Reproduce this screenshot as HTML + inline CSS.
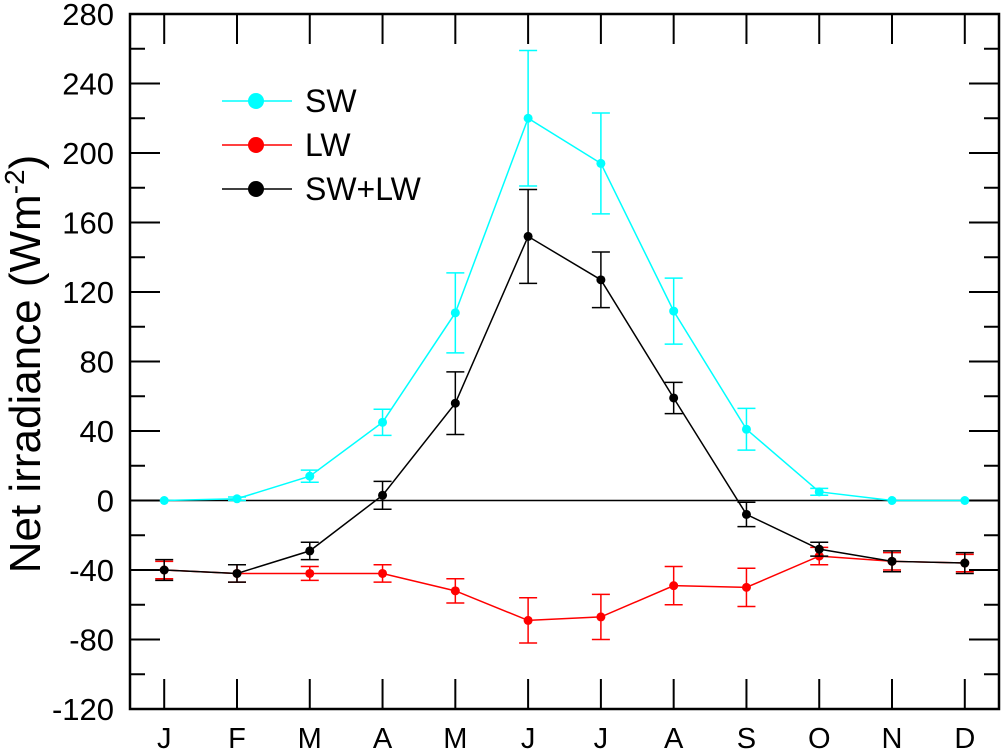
<!DOCTYPE html>
<html><head><meta charset="utf-8"><style>body{margin:0;background:#fff}svg{display:block;font-family:"Liberation Sans",Arial,sans-serif}</style></head>
<body>
<svg id="chart" width="1001" height="754" viewBox="0 0 1001 754" xmlns="http://www.w3.org/2000/svg"></svg>
<script>
const months = ["J","F","M","A","M","J","J","A","S","O","N","D"];
const yTicks = [-120,-80,-40,0,40,80,120,160,200,240,280];
const swVals = [0,1,14,45,108,220,194,109,41,5,0,0];
const swErr = [0,1,3.5,7.5,23,39,29,19,12,2,0,0];
const lwVals = [-40,-42,-42,-42,-52,-69,-67,-49,-50,-32,-35,-36];
const lwErr = [5,5,4,5,7,13,13,11,11,5,5,5];
const netVals = [-40,-42,-29,3,56,152,127,59,-8,-28,-35,-36];
const netErr = [6,5,5,8,18,27,16,9,7,4,6,6];

const svg = document.getElementById('chart');
const NS = 'http://www.w3.org/2000/svg';
const L=130,R=999,T=14,B=709;
const x = i => L + (i + 0.47) * (R - L) / 11.94;
const y = v => B - (v + 120) * (B - T) / 400;
function mk(tag, attrs, parent){const e=document.createElementNS(NS,tag);for(const k in attrs)e.setAttribute(k,attrs[k]);(parent||svg).appendChild(e);return e;}

const zl = mk('line',{x1:L,x2:R,y1:y(0),y2:y(0),stroke:'#000','stroke-width':1.5});



const yAxis = mk('g',{});


for(let k=0;k<yTicks.length;k++){
  const v=yTicks[k], yy=y(v);
  mk('line',{x1:L,x2:L+30,y1:yy,y2:yy,stroke:'#000','stroke-width':2},yAxis);
  mk('line',{x1:R,x2:R-30,y1:yy,y2:yy,stroke:'#000','stroke-width':2},yAxis);
  if(k<yTicks.length-1){const ym=y(v+20);
    mk('line',{x1:L,x2:L+15,y1:ym,y2:ym,stroke:'#000','stroke-width':2},yAxis);
    mk('line',{x1:R,x2:R-15,y1:ym,y2:ym,stroke:'#000','stroke-width':2},yAxis);}
  const t=mk('text',{x:L-16,y:yy+11,'text-anchor':'end','font-size':31},yAxis);
  t.textContent=v;
  
  
}
const xAxis = mk('g',{});


months.forEach((m,i)=>{
  const xx=x(i);
  mk('line',{x1:xx,x2:xx,y1:B,y2:B-30,stroke:'#000','stroke-width':2},xAxis);
  mk('line',{x1:xx,x2:xx,y1:T,y2:T+30,stroke:'#000','stroke-width':2},xAxis);
  const t=mk('text',{x:xx,y:748,'text-anchor':'middle','font-size':29},xAxis);
  t.textContent=m;
  
  
});
const fr=mk('rect',{x:L,y:T,width:R-L,height:B-T,fill:'none',stroke:'#000','stroke-width':2.5});



function series(vals, errs, color, name){
  const g=mk('g',{});
  
  
  mk('polyline',{points:vals.map((v,i)=>x(i)+','+y(v)).join(' '),fill:'none',stroke:color,'stroke-width':1.5},g);
  vals.forEach((v,i)=>{
    const xx=x(i);
    if(errs[i]>0){
      mk('line',{x1:xx,x2:xx,y1:y(v+errs[i]),y2:y(v-errs[i]),stroke:color,'stroke-width':1.5},g);
      mk('line',{x1:xx-9,x2:xx+9,y1:y(v+errs[i]),y2:y(v+errs[i]),stroke:color,'stroke-width':1.5},g);
      mk('line',{x1:xx-9,x2:xx+9,y1:y(v-errs[i]),y2:y(v-errs[i]),stroke:color,'stroke-width':1.5},g);
    }
    const c=mk('circle',{cx:xx,cy:y(v),r:4.5,fill:color},g);
    
    
  });
}
series(swVals,swErr,'#00ffff','sw-series');
series(lwVals,lwErr,'#ff0000','lw-series');
series(netVals,netErr,'#000000','net-series');

const leg=mk('g',{});


[['SW','#00ffff',101],['LW','#ff0000',145],['SW+LW','#000000',189]].forEach(([lab,col,yy])=>{
  mk('line',{x1:222,x2:292,y1:yy,y2:yy,stroke:col,'stroke-width':1.5},leg);
  mk('circle',{cx:256,cy:yy,r:8,fill:col},leg);
  const t=mk('text',{x:305,y:yy+11,'font-size':32},leg);
  t.textContent=lab;
  
  
});

const yt=mk('text',{transform:'translate(40,364) rotate(-90)','text-anchor':'middle','font-size':44});


yt.innerHTML='Net irradiance (Wm<tspan dy="-16" font-size="28">-2</tspan><tspan dy="16">)</tspan>';
</script>
</body></html>
